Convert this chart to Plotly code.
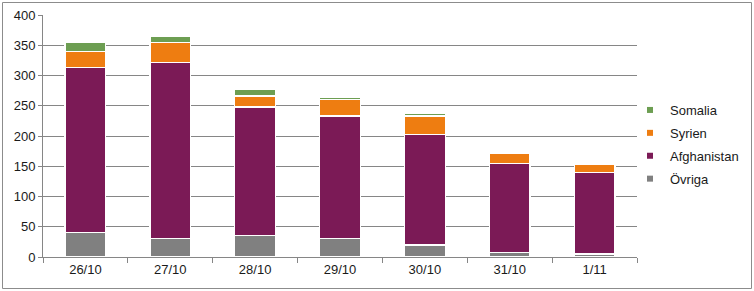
import plotly.graph_objects as go

categories = ["26/10", "27/10", "28/10", "29/10", "30/10", "31/10", "1/11"]
ovriga = [40, 31, 36, 30, 20, 8, 5]
afghanistan = [273, 291, 212, 203, 183, 147, 135]
syrien = [27, 33, 18, 27, 30, 16, 13]
somalia = [15, 10, 11, 4, 4, 0, 0]

series = [
    ("Övriga", ovriga, "#808080"),
    ("Afghanistan", afghanistan, "#7B1A56"),
    ("Syrien", syrien, "#EE7D11"),
    ("Somalia", somalia, "#6D9E52"),
]

W, H = 754, 291
L, R, T, B = 43, 117, 15, 34
pw, ph = W - L - R, H - T - B

fig = go.Figure()
for name, vals, col in series:
    fig.add_trace(go.Bar(
        x=categories, y=vals, name=name, showlegend=False,
        marker=dict(color=col, line=dict(color="white", width=1.2)),
    ))
# legend entries with small square markers (top of stack first)
for name, vals, col in reversed(series):
    fig.add_trace(go.Scatter(
        x=[None], y=[None], mode="markers", name=name, legendgroup=name,
        marker=dict(symbol="square", size=6, color=col),
    ))

def px_x(p):
    return (p - L) / pw

def px_y(p):
    return (H - B - p) / ph

fig.add_shape(type="rect", xref="paper", yref="paper",
              x0=px_x(2.5), x1=px_x(751.5), y0=px_y(288.5), y1=px_y(2.5),
              line=dict(color="#8c8c8c", width=1), fillcolor="rgba(0,0,0,0)")

fig.update_layout(
    width=W, height=H,
    margin=dict(l=L, r=R, t=T, b=B, autoexpand=False),
    barmode="stack", bargap=0.52,
    plot_bgcolor="white", paper_bgcolor="white",
    font=dict(family="Liberation Sans, Arial, sans-serif", size=13, color="#1a1a1a"),
    legend=dict(
        traceorder="grouped", x=px_x(630), y=px_y(95), xanchor="left", yanchor="top",
        font=dict(size=13), itemwidth=30, tracegroupgap=3,
        bgcolor="rgba(0,0,0,0)",
    ),
    xaxis=dict(
        type="category", showgrid=False, showline=True, linecolor="#868686",
        ticks="outside", tickson="boundaries", ticklen=5, tickcolor="#868686",
        tickfont=dict(size=13),
    ),
    yaxis=dict(
        range=[0, 400], dtick=50, showgrid=True, gridcolor="#868686", gridwidth=1,
        showline=True, linecolor="#868686", ticks="outside", ticklen=4,
        tickcolor="#868686", zeroline=False, tickfont=dict(size=13),
    ),
)

fig.write_html("out.html")
